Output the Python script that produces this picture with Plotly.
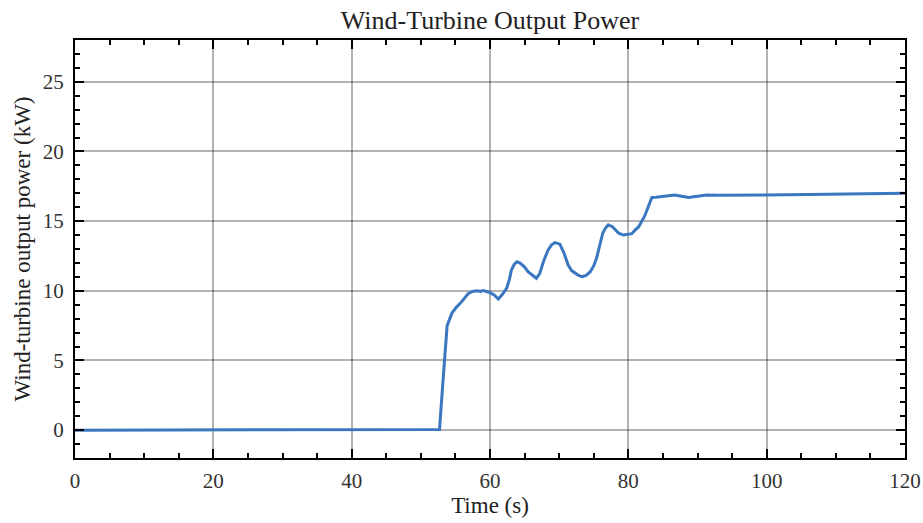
import plotly.graph_objects as go

time_s = [0, 10, 20, 30, 40, 50, 52.7, 53.2, 53.8, 54.5, 55.1, 55.7, 56.3, 56.9, 57.5, 58.1, 58.6, 59.0, 59.5, 60.0, 60.6, 61.2,
          61.8, 62.4, 62.8, 63.1, 63.5, 63.9, 64.4, 65.0, 65.5, 66.1, 66.7, 67.2, 67.8, 68.4, 68.9, 69.4, 70.1,
          70.7, 71.3, 71.8, 72.3, 72.8, 73.3, 73.9, 74.5, 75.0, 75.4, 75.9, 76.3, 76.7, 77.1, 77.7, 78.2, 78.6,
          79.3, 80.0, 80.5, 81.0, 81.5, 81.9, 82.3, 82.7, 83.1, 83.4, 84.0, 84.6, 85.6, 86.7, 87.7, 88.7, 90.0,
          91.3, 93.0, 95.0, 97.5, 100.0, 103.0, 106.0, 109.6, 112.0, 115.0, 117.5, 120.0]
power_kw = [0, 0, 0, 0, 0, 0, 0.05, 3.5, 7.5, 8.4, 8.8, 9.1, 9.5, 9.82, 9.95, 10.0, 9.95, 10.02, 9.95, 9.87, 9.7, 9.41,
            9.75, 10.18, 10.8, 11.49, 11.9, 12.09, 11.97, 11.7, 11.37, 11.1, 10.9, 11.26, 12.2, 12.93, 13.3, 13.46, 13.35,
            12.7, 11.85, 11.45, 11.26, 11.1, 11.01, 11.1, 11.37, 11.8, 12.33, 13.3, 14.13, 14.5, 14.73, 14.6, 14.3, 14.13,
            14.0, 14.06, 14.1, 14.37, 14.6, 14.96, 15.3, 15.8, 16.3, 16.7, 16.72, 16.76, 16.82, 16.88, 16.78, 16.69, 16.78,
            16.88, 16.85, 16.87, 16.88, 16.88, 16.9, 16.92, 16.95, 16.96, 16.97, 16.98, 17.0]

x_ticks = [0, 20, 40, 60, 80, 100, 120]
y_ticks = [0, 5, 10, 15, 20, 25]

font_family = "Liberation Serif, Times New Roman, serif"

fig = go.Figure()
fig.add_trace(go.Scatter(x=time_s, y=power_kw, mode="lines",
                         line=dict(color="#3a77c0", width=3), showlegend=False))

axis_common = dict(
    showline=True, linecolor="black", linewidth=2, mirror="ticks",
    ticks="inside", ticklen=9, tickwidth=2, tickcolor="black",
    showgrid=True, gridcolor="rgba(0,0,0,0.3)", gridwidth=1.5,
    zeroline=False, automargin=False,
    tickfont=dict(family=font_family, size=21, color="#333333"),
)

fig.update_xaxes(range=[0, 120], tickvals=x_ticks, ticklabelstandoff=3,
                 minor=dict(dtick=5, ticks="inside", ticklen=5, tickwidth=2, tickcolor="black", showgrid=False),
                 title=dict(text="Time (s)", font=dict(family=font_family, size=23, color="#222222"), standoff=5),
                 **axis_common)
fig.update_yaxes(range=[-2, 28], tickvals=y_ticks, ticklabelstandoff=5,
                 minor=dict(dtick=1, ticks="inside", ticklen=5, tickwidth=2, tickcolor="black", showgrid=False),
                 title=dict(text="Wind-turbine output power (kW)", font=dict(family=font_family, size=23, color="#222222"), standoff=6),
                 **axis_common)

fig.update_layout(
    width=923, height=523,
    margin=dict(l=75, r=18, t=40, b=65),
    paper_bgcolor="white", plot_bgcolor="white",
    title=dict(text="Wind-Turbine Output Power", x=0.5, xref="paper", xanchor="center",
               yref="container", y=0.962, yanchor="middle",
               font=dict(family=font_family, size=26, color="#222222")),
)

fig.write_html("out.html")
